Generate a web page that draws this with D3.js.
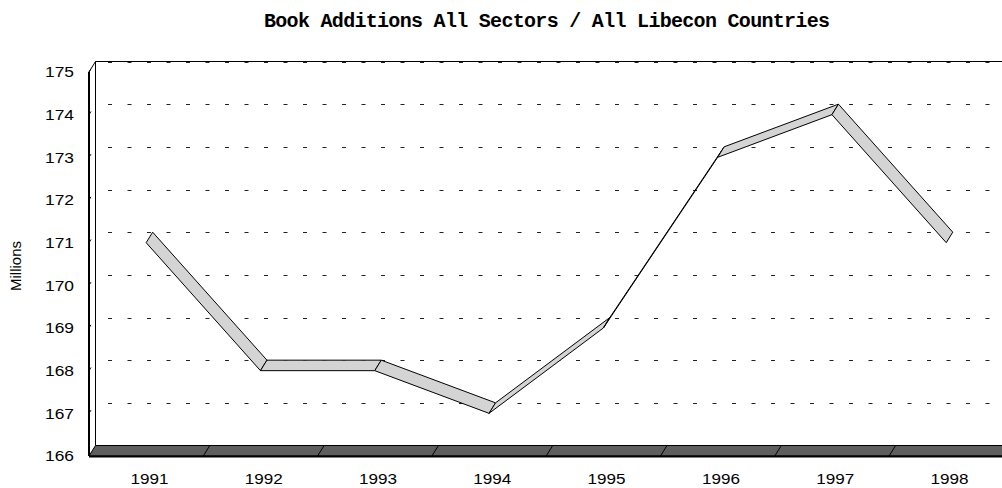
<!DOCTYPE html>
<html>
<head>
<meta charset="utf-8">
<script src="https://cdn.jsdelivr.net/npm/d3@7"></script>
<style>
  body { margin: 0; background: #fff; }
  svg { display: block; }
  .tick text { font-family: "Liberation Sans", Arial, sans-serif; font-size: 15.5px; fill: #000; }
</style>
</head>
<body>
<svg></svg>
<script>
var width = 1002, height = 488;

// data
var years = ["1991", "1992", "1993", "1994", "1995", "1996", "1997", "1998"];
var additions = [171, 168, 168, 167, 169, 173, 174, 171];
var yTicks = [166, 167, 168, 169, 170, 171, 172, 173, 174, 175];

// depth offset of the 3d box (front plane -> back wall)
var depth = {x: 6.5, y: -10.5};

var svg = d3.select("svg")
	.attr("width", width)
	.attr("height", height);

var x = d3.scaleBand()
	.domain(years)
	.range([89, 1003.4]);

var y = d3.scaleLinear()
	.domain([166, 175])
	.range([456, 72]);

function cx(d) { return x(d) + x.bandwidth() / 2; }

// title
svg.append("text")
	.attr("x", 264)
	.attr("y", 27)
	.attr("textLength", 566)
	.attr("lengthAdjust", "spacing")
	.style("font-family", "'Liberation Mono', 'Courier New', monospace")
	.style("font-weight", "bold")
	.style("font-size", "20px")
	.text("Book Additions All Sectors / All Libecon Countries");

// back wall
var wallLeft = x.range()[0] + depth.x,
    wallTop = y(175) + depth.y,
    wallBottom = y(166) + depth.y;

var grid = svg.append("g");
grid.selectAll("line")
	.data(yTicks)
	.enter()
	.append("line")
	.attr("x1", 108)
	.attr("x2", width + 10)
	.attr("y1", function(d) { return Math.round(y(d) + depth.y) + 0.5; })
	.attr("y2", function(d) { return Math.round(y(d) + depth.y) + 0.5; })
	.attr("stroke", "#222")
	.attr("stroke-width", 1)
	.attr("stroke-dasharray", "4,15.5");

svg.append("line")
	.attr("x1", wallLeft).attr("x2", width + 10)
	.attr("y1", wallTop).attr("y2", wallTop)
	.attr("stroke", "#000");

svg.append("line")
	.attr("x1", wallLeft).attr("x2", wallLeft)
	.attr("y1", wallTop).attr("y2", wallBottom)
	.attr("stroke", "#000");

// left side wall
svg.append("line")
	.attr("x1", x.range()[0]).attr("x2", wallLeft)
	.attr("y1", y(175)).attr("y2", wallTop)
	.attr("stroke", "#000");

svg.append("line")
	.attr("x1", x.range()[0]).attr("x2", x.range()[0])
	.attr("y1", y(175)).attr("y2", y(166))
	.attr("stroke", "#000")
	.attr("stroke-width", 2);

svg.append("g").selectAll("line")
	.data(yTicks)
	.enter()
	.append("line")
	.attr("x1", x.range()[0])
	.attr("y1", function(d) { return y(d); })
	.attr("x2", x.range()[0] + depth.x * 0.3)
	.attr("y2", function(d) { return y(d) + depth.y * 0.3; })
	.attr("stroke", "#000");

// floor
var x0 = x.range()[0], x1 = x.range()[1];
svg.append("path")
	.attr("d", "M" + x0 + "," + y(166) +
		"L" + x1 + "," + y(166) +
		"L" + (x1 + depth.x) + "," + (y(166) + depth.y) +
		"L" + (x0 + depth.x) + "," + (y(166) + depth.y) + "Z")
	.attr("fill", "#5e5e5e")
	.attr("stroke", "#000")
	.attr("stroke-width", 1);

svg.append("line")
	.attr("x1", x0).attr("x2", width + 10)
	.attr("y1", y(166) + 0.5).attr("y2", y(166) + 0.5)
	.attr("stroke", "#000")
	.attr("stroke-width", 2);

svg.append("g").selectAll("line")
	.data(years.slice(1))
	.enter()
	.append("line")
	.attr("x1", function(d) { return x(d); })
	.attr("y1", y(166))
	.attr("x2", function(d) { return x(d) + depth.x; })
	.attr("y2", y(166) + depth.y)
	.attr("stroke", "#000");

// 3d ribbon
var points = years.map(function(d, i) {
	return {x: cx(d), y: y(additions[i])};
});
var segments = d3.pairs(points);

svg.append("g").selectAll("path")
	.data(segments)
	.enter()
	.append("path")
	.attr("d", function(s) {
		var a = s[0], b = s[1];
		return "M" + a.x + "," + a.y +
			"L" + b.x + "," + b.y +
			"L" + (b.x + depth.x) + "," + (b.y + depth.y) +
			"L" + (a.x + depth.x) + "," + (a.y + depth.y) + "Z";
	})
	.attr("fill", "#d4d4d4")
	.attr("stroke", "#000")
	.attr("stroke-width", 1)
	.attr("stroke-linejoin", "round");

// axes
svg.append("g")
	.attr("transform", "translate(" + x0 + ",0)")
	.call(d3.axisLeft(y).tickValues(yTicks).tickSize(0).tickPadding(15).tickFormat(d3.format("d")))
	.call(function(g) {
		g.select(".domain").remove();
		g.selectAll("text").attr("textLength", 29).attr("lengthAdjust", "spacingAndGlyphs");
	});

svg.append("g")
	.attr("transform", "translate(" + (depth.x / 2) + "," + y(166) + ")")
	.call(d3.axisBottom(x).tickSize(0).tickPadding(17))
	.call(function(g) {
		g.select(".domain").remove();
		g.selectAll("text").attr("textLength", 38).attr("lengthAdjust", "spacingAndGlyphs");
	});

svg.append("text")
	.attr("transform", "translate(21,266) rotate(-90)")
	.attr("text-anchor", "middle")
	.style("font-family", "'Liberation Sans', Arial, sans-serif")
	.style("font-size", "15px")
	.text("Millions");
</script>
</body>
</html>
